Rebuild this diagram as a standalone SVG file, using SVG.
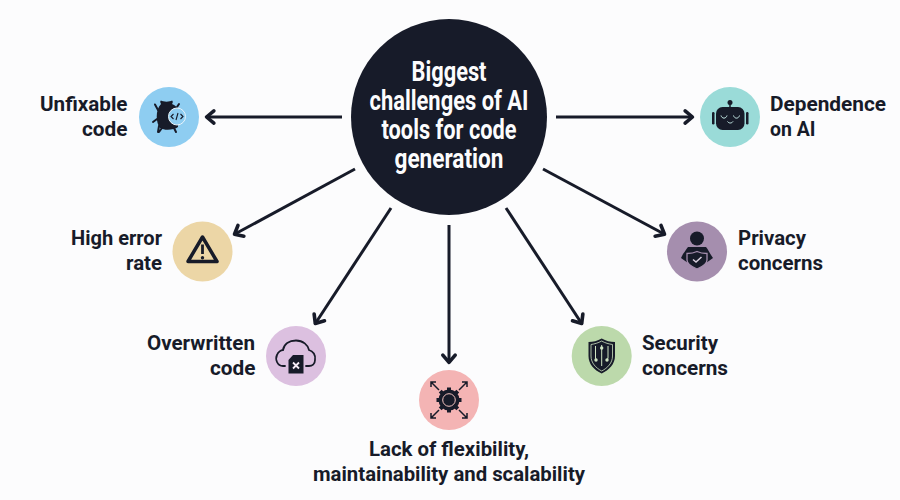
<svg xmlns="http://www.w3.org/2000/svg" width="900" height="500" viewBox="0 0 900 500">
<style>
text{font-family:"Roboto","Liberation Sans",sans-serif;font-weight:700;fill:#171b29}
.l{font-size:20px}
.t{font-size:27px;fill:#fcfcfd;text-anchor:middle}
.conn{stroke:#171b29;stroke-width:3;fill:none;marker-end:url(#a)}
.d{fill:#171b29}
.s{fill:none;stroke:#171b29;stroke-width:2;stroke-linecap:round;stroke-linejoin:round}
</style>
<defs>
<marker id="a" markerUnits="userSpaceOnUse" markerWidth="18" markerHeight="18" refX="11" refY="8" orient="auto" viewBox="0 0 14 16">
<path d="M4 2.500L10.500 8L4 13.500" fill="none" stroke="#171b29" stroke-width="3.200" stroke-linecap="round" stroke-linejoin="round"/>
</marker>
</defs>
<rect width="900" height="500" fill="#fcfcfd"/>
<g id="connectors">
<path class="conn" d="M342 117H206"/>
<path class="conn" d="M556 117H693"/>
<path class="conn" d="M355 169L234 234.500"/>
<path class="conn" d="M543 169L665 234.500"/>
<path class="conn" d="M391 208L315 324"/>
<path class="conn" d="M506 208L582 324"/>
<path class="conn" d="M449 225V363"/>
</g>
<g id="center">
<circle cx="449" cy="117" r="98" fill="#171b29"/>
<text class="t" x="449" y="81" textLength="75" lengthAdjust="spacingAndGlyphs">Biggest</text>
<text class="t" x="449" y="110" textLength="159" lengthAdjust="spacingAndGlyphs">challenges of AI</text>
<text class="t" x="449" y="139" textLength="135" lengthAdjust="spacingAndGlyphs">tools for code</text>
<text class="t" x="449" y="168" textLength="109" lengthAdjust="spacingAndGlyphs">generation</text>
</g>
<g id="unfixable">
<circle cx="169" cy="117" r="30" fill="#8ecdf1"/>
<path class="d" d="M161 104C160 102 160 101 161 100.500C163 102 170 102 172 100.500C173 101 173 103 172 104C175 105 177 107 178 110L178 127C174 130 165 131 160 128C156 123 155 110 161 104Z"/>
<path class="s" d="M158 110L155 104.500M157 119L153 122M159 126L158 132M162 128L159 132M174 128L176 132M177 107L179 104" stroke-width="1.800"/>
<circle cx="177" cy="116.500" r="8.500" fill="#8ecdf1" stroke="#e8f4fb" stroke-width="1"/>
<path d="M173.500 114L171 116.500L173.500 119M180.500 114L183 116.500L180.500 119M178 113L176 120" fill="none" stroke="#171b29" stroke-width="1.100"/>
<text class="l" x="40" y="110.500" textLength="87.500" lengthAdjust="spacingAndGlyphs">Unfixable</text>
<text class="l" x="82" y="135.500" textLength="45.500" lengthAdjust="spacingAndGlyphs">code</text>
</g>
<g id="high-error">
<circle cx="202.500" cy="251.500" r="30" fill="#ecd6a6"/>
<path d="M202.500 237L217 261.500H188Z" fill="none" stroke="#171b29" stroke-width="3.500" stroke-linejoin="round"/>
<path d="M202.500 244.500V254" stroke="#171b29" stroke-width="2.800"/>
<circle class="d" cx="202.500" cy="257.800" r="1.700"/>
<text class="l" x="71" y="245" textLength="91" lengthAdjust="spacingAndGlyphs">High error</text>
<text class="l" x="126" y="270" textLength="36" lengthAdjust="spacingAndGlyphs">rate</text>
</g>
<g id="overwritten">
<circle cx="296" cy="356" r="30" fill="#dcc0e0"/>
<path d="M285 366H283C277 366 275 359 277 355C278 352 281 350 283 350C284 344 289 340.500 296 340.500C303 340.500 308 345 309 350C313 351 316 355 315 360C315 364 312 366 309 366H306" fill="none" stroke="#171b29" stroke-width="1.800" stroke-linecap="round"/>
<path class="d" d="M293 355H303.500V373.500H288.500V360Z"/>
<path d="M293 362.500L299 368.500M299 362.500L293 368.500" stroke="#f5ecf6" stroke-width="1.800"/>
<text class="l" x="147" y="350" textLength="108" lengthAdjust="spacingAndGlyphs">Overwritten</text>
<text class="l" x="210" y="375" textLength="45.500" lengthAdjust="spacingAndGlyphs">code</text>
</g>
<g id="flexibility">
<circle cx="449" cy="400" r="30" fill="#f4b4b4"/>
<circle cx="449" cy="400" r="10.500" class="d"/>
<path d="M449 387.500V412.500M436.500 400H461.500M440.200 391.200L457.800 408.800M457.800 391.200L440.200 408.800" stroke="#171b29" stroke-width="4"/>
<circle cx="449" cy="400" r="6.300" fill="#171b29" stroke="#f4c4c0" stroke-width="1"/>
<path d="M439 390L431 382M431 387V382H436M459 390L467 382M462 382H467V387M439 410L431 418M431 413V418H436M459 410L467 418M462 418H467V413" fill="none" stroke="#171b29" stroke-width="1.500"/>
<text class="l" x="369" y="456" textLength="160" lengthAdjust="spacingAndGlyphs">Lack of flexibility,</text>
<text class="l" x="313" y="481" textLength="272" lengthAdjust="spacingAndGlyphs">maintainability and scalability</text>
</g>
<g id="security">
<circle cx="601.700" cy="356" r="30" fill="#bcd9ab"/>
<path class="d" d="M601.700 338.500C606 341 610 342 615 342V356C615 364 609 370 601.700 373.500C594 370 588.500 364 588.500 356V342C593 342 597.500 341 601.700 338.500Z"/>
<path d="M601.700 341C605 343 609 344 612.500 344.500V356C612.500 363 607.500 368 601.700 371C596 368 591 363 591 356V344.500C594.500 344 598 343 601.700 341Z" fill="none" stroke="#cfe3c2" stroke-width=".8"/>
<path d="M601.700 345V366M595.500 346V358L596 360M608 346V358L607 360" fill="none" stroke="#cfe3c2" stroke-width="1"/>
<circle cx="601.700" cy="348" r="1.700" fill="#cfe3c2"/>
<circle cx="596" cy="360" r="1.700" fill="#cfe3c2"/>
<circle cx="607" cy="360" r="1.700" fill="#cfe3c2"/>
<text class="l" x="642" y="350" textLength="76" lengthAdjust="spacingAndGlyphs">Security</text>
<text class="l" x="642" y="375" textLength="86" lengthAdjust="spacingAndGlyphs">concerns</text>
</g>
<g id="privacy">
<circle cx="697" cy="251.500" r="30" fill="#a58eae"/>
<circle class="d" cx="697" cy="238.500" r="7"/>
<path class="d" d="M688 247H706C708 249 709 252 711 255L713 258L706 263H688L681 258L683 254C685 252 686 249 688 247Z"/>
<path d="M687 253.500C691 253.500 694 253 697 251.500C700 253 703 253.500 707 253.500V260C707 264 702 267 697 269C692 267 687 264 687 260Z" fill="#171b29" stroke="#a58eae" stroke-width="1.300"/>
<path d="M693 259.500L696 262L701.500 257" fill="none" stroke="#d8cfdd" stroke-width="1.500"/>
<text class="l" x="738" y="245" textLength="68" lengthAdjust="spacingAndGlyphs">Privacy</text>
<text class="l" x="738" y="270" textLength="85" lengthAdjust="spacingAndGlyphs">concerns</text>
</g>
<g id="dependence">
<circle cx="730" cy="117" r="30" fill="#9adbd8"/>
<circle class="d" cx="730" cy="102.500" r="2.500"/>
<path d="M730 103V108" stroke="#171b29" stroke-width="1.500"/>
<rect class="d" x="716" y="107" width="28.500" height="23" rx="6.500"/>
<rect class="d" x="712" y="112" width="2.500" height="12.500" rx="1.200"/>
<rect class="d" x="746" y="112" width="2.500" height="12.500" rx="1.200"/>
<path d="M721 115.500C722 119 726 119 727 115.500M733.500 115.500C734.500 119 738.500 119 739.500 115.500M727.500 121.500C729 123.500 731.500 123.500 733 121.500" fill="none" stroke="#c8ece9" stroke-width="1"/>
<text class="l" x="770" y="110.500" textLength="116" lengthAdjust="spacingAndGlyphs">Dependence</text>
<text class="l" x="770" y="135.500" textLength="45.500" lengthAdjust="spacingAndGlyphs">on AI</text>
</g>
</svg>
